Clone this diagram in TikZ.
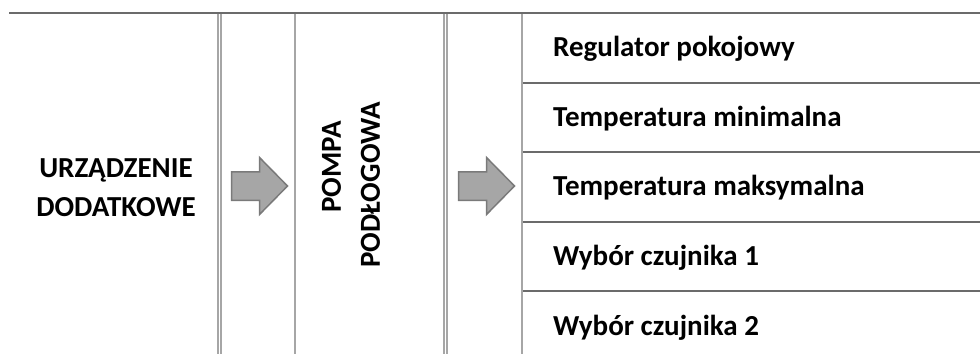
\documentclass[tikz,border=0pt]{standalone}
\usepackage{fontspec}
\setmainfont{Carlito}
\usetikzlibrary{positioning}
\definecolor{RuleGray}{HTML}{6B6B6B}
\definecolor{ColGray}{HTML}{A6A6A6}
\definecolor{ArrowFill}{HTML}{A6A6A6}
\definecolor{ArrowEdge}{HTML}{7A7A7A}
\tikzset{
  rule/.style={draw=RuleGray, line width=2pt},
  colline/.style={draw=ColGray, line width=2pt},
  dblline/.style={draw=ColGray, double=white, line width=1.8pt, double distance=1.2pt},
  headtext/.style={align=center, inner sep=0pt, font=\fontsize{29}{39}\selectfont\bfseries},
  itemtext/.style={anchor=base west, inner sep=0pt, font=\fontsize{29}{34}\selectfont\bfseries},
  blockarrow/.pic={
    \draw[fill=ArrowFill, draw=ArrowEdge, line width=1.5pt, line join=miter]
      (-28,-14.25) -- (0,-14.25) -- (0,-28.5) -- (28,0) -- (0,28.5) -- (0,14.25) -- (-28,14.25) -- cycle;
  }
}

\begin{document}
\begin{tikzpicture}[x=1pt, y=-1pt]
\useasboundingbox (0,0) rectangle (980,354);
% columns
\draw[dblline] (219.5,14) -- (219.5,354);
\draw[colline] (295,14) -- (295,354);
\draw[dblline] (445.5,14) -- (445.5,354);
\draw[colline] (522,14) -- (522,354);
% rules
\draw[rule] (9,13) -- (980,13);
\foreach \y in {82.5,152,221.5,291}
  \draw[rule] (523,\y) -- (980,\y);
% texts
\node[headtext] (device) at (116,188) {URZĄDZENIE\\DODATKOWE};
\node[headtext, rotate=90] (pump) at (351,185) {\hspace*{36pt}POMPA\\PODŁOGOWA};
\foreach \txt [count=\i from 0] in {Regulator pokojowy, Temperatura minimalna, Temperatura maksymalna, Wybór czujnika 1, Wybór czujnika 2}
  \node[itemtext] (item\i) at (553,56.7+69.6*\i) {\txt};
% arrows
\pic at (259.5,186) {blockarrow};
\pic at (486.5,186) {blockarrow};
\end{tikzpicture}
\end{document}
